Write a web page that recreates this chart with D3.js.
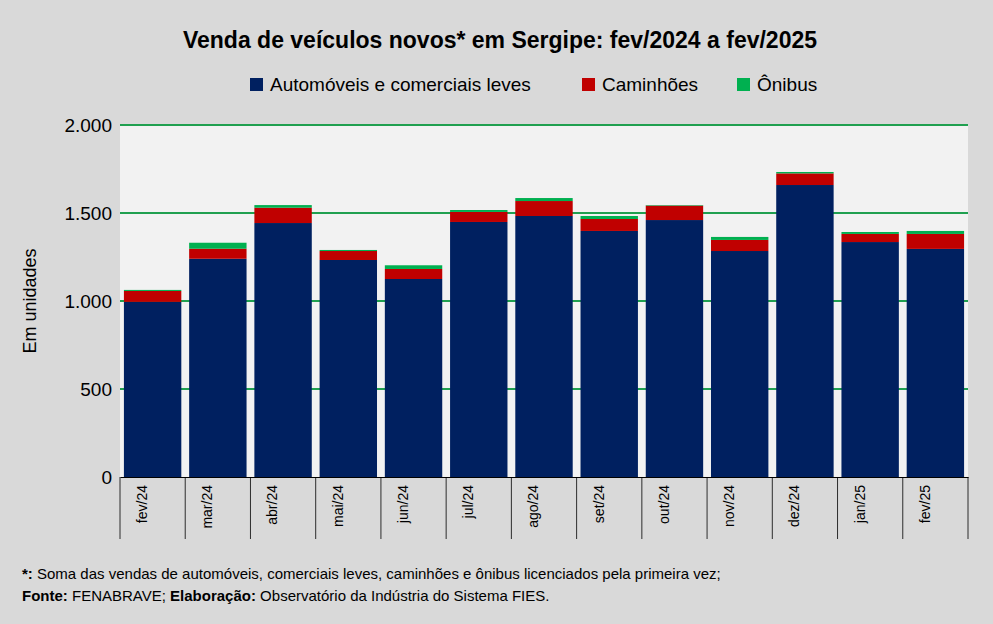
<!DOCTYPE html>
<html><head><meta charset="utf-8">
<script src="https://cdn.jsdelivr.net/npm/d3@7"></script>
<style>
body{margin:0;background:#d9d9d9;font-family:"Liberation Sans",Arial,sans-serif;}
</style></head><body>
<svg id="chart" width="993" height="624"></svg>
<script>
"use strict";
(function(){
    // Monthly sales: autos + light commercial, trucks, buses
    var data = [
        {mes:"fev/24", auto: 995, cam:62, oni:6},
        {mes:"mar/24", auto:1240, cam:57, oni:34},
        {mes:"abr/24", auto:1443, cam:87, oni:15},
        {mes:"mai/24", auto:1233, cam:51, oni:6},
        {mes:"jun/24", auto:1125, cam:57, oni:21},
        {mes:"jul/24", auto:1449, cam:57, oni:11},
        {mes:"ago/24", auto:1483, cam:85, oni:17},
        {mes:"set/24", auto:1398, cam:68, oni:17},
        {mes:"out/24", auto:1460, cam:82, oni:3},
        {mes:"nov/24", auto:1284, cam:63, oni:17},
        {mes:"dez/24", auto:1659, cam:66, oni:8},
        {mes:"jan/25", auto:1335, cam:46, oni:11},
        {mes:"fev/25", auto:1296, cam:85, oni:17}
    ];
    var keys = ["auto","cam","oni"],
        names = {auto:"Automóveis e comerciais leves", cam:"Caminhões", oni:"Ônibus"},
        colors = {auto:"#002060", cam:"#c00000", oni:"#00b050"};

    var svg = d3.select("#chart");
    var m = {left:120, right:968, top:125, bottom:477};

    var x = d3.scaleBand().domain(data.map(function(d){return d.mes;}))
        .range([m.left, m.right]).paddingInner(0.12).paddingOuter(0.06);
    var y = d3.scaleLinear().domain([0,2000]).range([m.bottom, m.top]);

    svg.append("rect").attr("x",m.left).attr("y",m.top)
        .attr("width",m.right-m.left).attr("height",m.bottom-m.top).attr("fill","#f2f2f2");

    // gridlines
    svg.append("g").selectAll("line").data(y.ticks(5).filter(function(t){return t>0;}))
        .enter().append("line")
        .attr("x1",m.left).attr("x2",m.right)
        .attr("y1",function(d){return y(d);}).attr("y2",function(d){return y(d);})
        .attr("stroke","#20a050").attr("stroke-width",2);

    var stack = d3.stack().keys(keys)(data);
    svg.append("g").selectAll("g").data(stack).enter().append("g")
        .attr("fill",function(s){return colors[s.key];})
        .selectAll("rect").data(function(s){return s;}).enter().append("rect")
        .attr("x",function(d){return x(d.data.mes);})
        .attr("width",x.bandwidth())
        .attr("y",function(d){return y(d[1]);})
        .attr("height",function(d){return y(d[0])-y(d[1]);});

    var fmt = function(v){return d3.format(",")(v).replace(/,/g,".");};
    var yAxis = svg.append("g").attr("transform","translate("+m.left+",0)")
        .call(d3.axisLeft(y).ticks(5).tickFormat(fmt).tickSize(0).tickPadding(8));
    yAxis.select(".domain").remove();
    yAxis.selectAll("text").attr("font-size",19).attr("fill","#000")
        .attr("font-family","Liberation Sans, Arial");

    var xAxis = svg.append("g").attr("transform","translate(0,"+m.bottom+")")
        .call(d3.axisBottom(x).tickSize(0).tickPadding(8));
    xAxis.select(".domain").attr("stroke","#000");
    xAxis.selectAll("text").attr("font-size",14).attr("fill","#000")
        .attr("font-family","Liberation Sans, Arial")
        .attr("transform","rotate(-90)").attr("text-anchor","end")
        .attr("dx","-8").attr("dy","-0.4em").attr("y",0);
    // band separators
    xAxis.selectAll(".sep").data(d3.range(data.length+1)).enter().append("line")
        .attr("x1",function(i){return m.left+i*(m.right-m.left)/data.length;})
        .attr("x2",function(i){return m.left+i*(m.right-m.left)/data.length;})
        .attr("y1",0).attr("y2",62).attr("stroke","#000").attr("stroke-width",0.8);

    svg.append("text").attr("x",500).attr("y",48).attr("text-anchor","middle")
        .attr("font-weight","bold").attr("font-size",23)
        .text("Venda de veículos novos* em Sergipe: fev/2024 a fev/2025");

    svg.append("text").attr("transform","translate(36,301) rotate(-90)")
        .attr("text-anchor","middle").attr("font-size",18).text("Em unidades");

    // legend
    var lx = [250, 582, 737];
    keys.forEach(function(k,i){
        svg.append("rect").attr("x",lx[i]).attr("y",78).attr("width",13).attr("height",13).attr("fill",colors[k]);
        svg.append("text").attr("x",lx[i]+20).attr("y",91).attr("font-size",19).text(names[k]);
    });

    var f1 = svg.append("text").attr("x",22).attr("y",579).attr("font-size",15);
    f1.append("tspan").attr("font-weight","bold").text("*:");
    f1.append("tspan").text(" Soma das vendas de automóveis, comerciais leves, caminhões e ônibus licenciados pela primeira vez;");
    var f2 = svg.append("text").attr("x",22).attr("y",601).attr("font-size",15);
    f2.append("tspan").attr("font-weight","bold").text("Fonte:");
    f2.append("tspan").text(" FENABRAVE; ");
    f2.append("tspan").attr("font-weight","bold").text("Elaboração:");
    f2.append("tspan").text(" Observatório da Indústria do Sistema FIES.");
})();
</script>
</body></html>
